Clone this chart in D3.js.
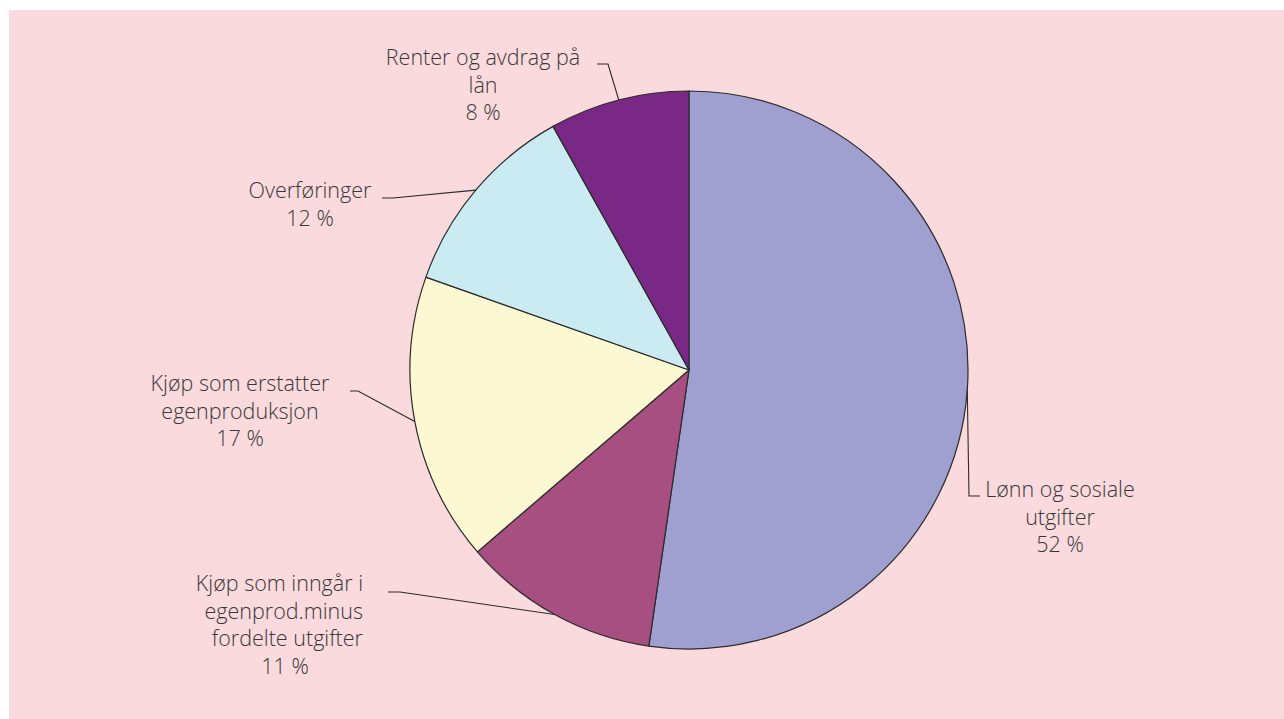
<!DOCTYPE html>
<html><head><meta charset="utf-8">
<script src="https://cdn.jsdelivr.net/npm/d3@7/dist/d3.min.js"></script>
<style>html,body{margin:0;padding:0;background:#fff;overflow:hidden;}svg{display:block;}</style>
</head><body>
<svg id="chart" width="1284" height="719"></svg>
<script>
// Data
const categories = ["Lønn og sosiale utgifter", "Kjøp som inngår i egenprod.minus fordelte utgifter", "Kjøp som erstatter egenproduksjon", "Overføringer", "Renter og avdrag på lån"];
const values = [52.3, 11.4, 16.7, 11.5, 8.1];
const labelLines = [
  ["Lønn og sosiale", "utgifter"],
  ["Kjøp som inngår i", "egenprod.minus", "fordelte utgifter"],
  ["Kjøp som erstatter", "egenproduksjon"],
  ["Overføringer"],
  ["Renter og avdrag på", "lån"]
];
const colors = ["#9fa0cf", "#a74f81", "#fbf8d2", "#cbebf3", "#7a2886"];

// Layout (positions of labels and leader elbows)
const layout = [
  {x: 1060, y: 497, anchor: "middle", elbow: [[980, 496], [969, 496]]},
  {x: 363, y: 591, anchor: "end", pctX: 285, elbow: [[388, 592], [400, 592]]},
  {x: 240, y: 391, anchor: "middle", elbow: [[350, 391], [358, 391]]},
  {x: 310, y: 198, anchor: "middle", elbow: [[382, 198], [393, 198]]},
  {x: 483, y: 65, anchor: "middle", elbow: [[597, 64], [608, 64]]}
];

const svg = d3.select("#chart");
svg.append("rect").attr("x", 9).attr("y", 10).attr("width", 1284 - 9).attr("height", 719 - 10).attr("fill", "#fadadd");

const cx = 689, cy = 370, r = 279;
const g = svg.append("g").attr("transform", `translate(${cx},${cy})`);
const pie = d3.pie().sort(null).value(d => d)(values);
const arc = d3.arc().innerRadius(0).outerRadius(r);

g.selectAll("path.slice").data(pie).join("path")
  .attr("class", "slice")
  .attr("d", arc)
  .attr("fill", (d, i) => colors[i])
  .attr("stroke", "#2b2b2b")
  .attr("stroke-width", 1.2)
  .attr("stroke-linejoin", "round");

const lineH = 27.5;
pie.forEach((d, i) => {
  const L = layout[i];
  const mid = (d.startAngle + d.endAngle) / 2;
  const px = cx + Math.sin(mid) * r, py = cy - Math.cos(mid) * r;
  const pts = [...L.elbow, [px, py]];
  svg.append("path")
    .attr("d", d3.line()(pts))
    .attr("fill", "none").attr("stroke", "#2b2b2b").attr("stroke-width", 1.1);
  const t = svg.append("text")
    .attr("font-family", "'Open Sans', sans-serif")
    .attr("font-size", 21.5)
    .attr("font-weight", 300)
    .attr("fill", "#383838");
  const lines = labelLines[i];
  lines.forEach((ln, k) => {
    t.append("tspan").attr("x", L.x).attr("y", L.y + k * lineH)
      .attr("text-anchor", L.anchor).text(ln);
  });
  t.append("tspan")
    .attr("x", L.pctX != null ? L.pctX : L.x)
    .attr("y", L.y + lines.length * lineH)
    .attr("text-anchor", "middle")
    .text(Math.round(values[i]) + " %");
});
</script>
</body></html>
